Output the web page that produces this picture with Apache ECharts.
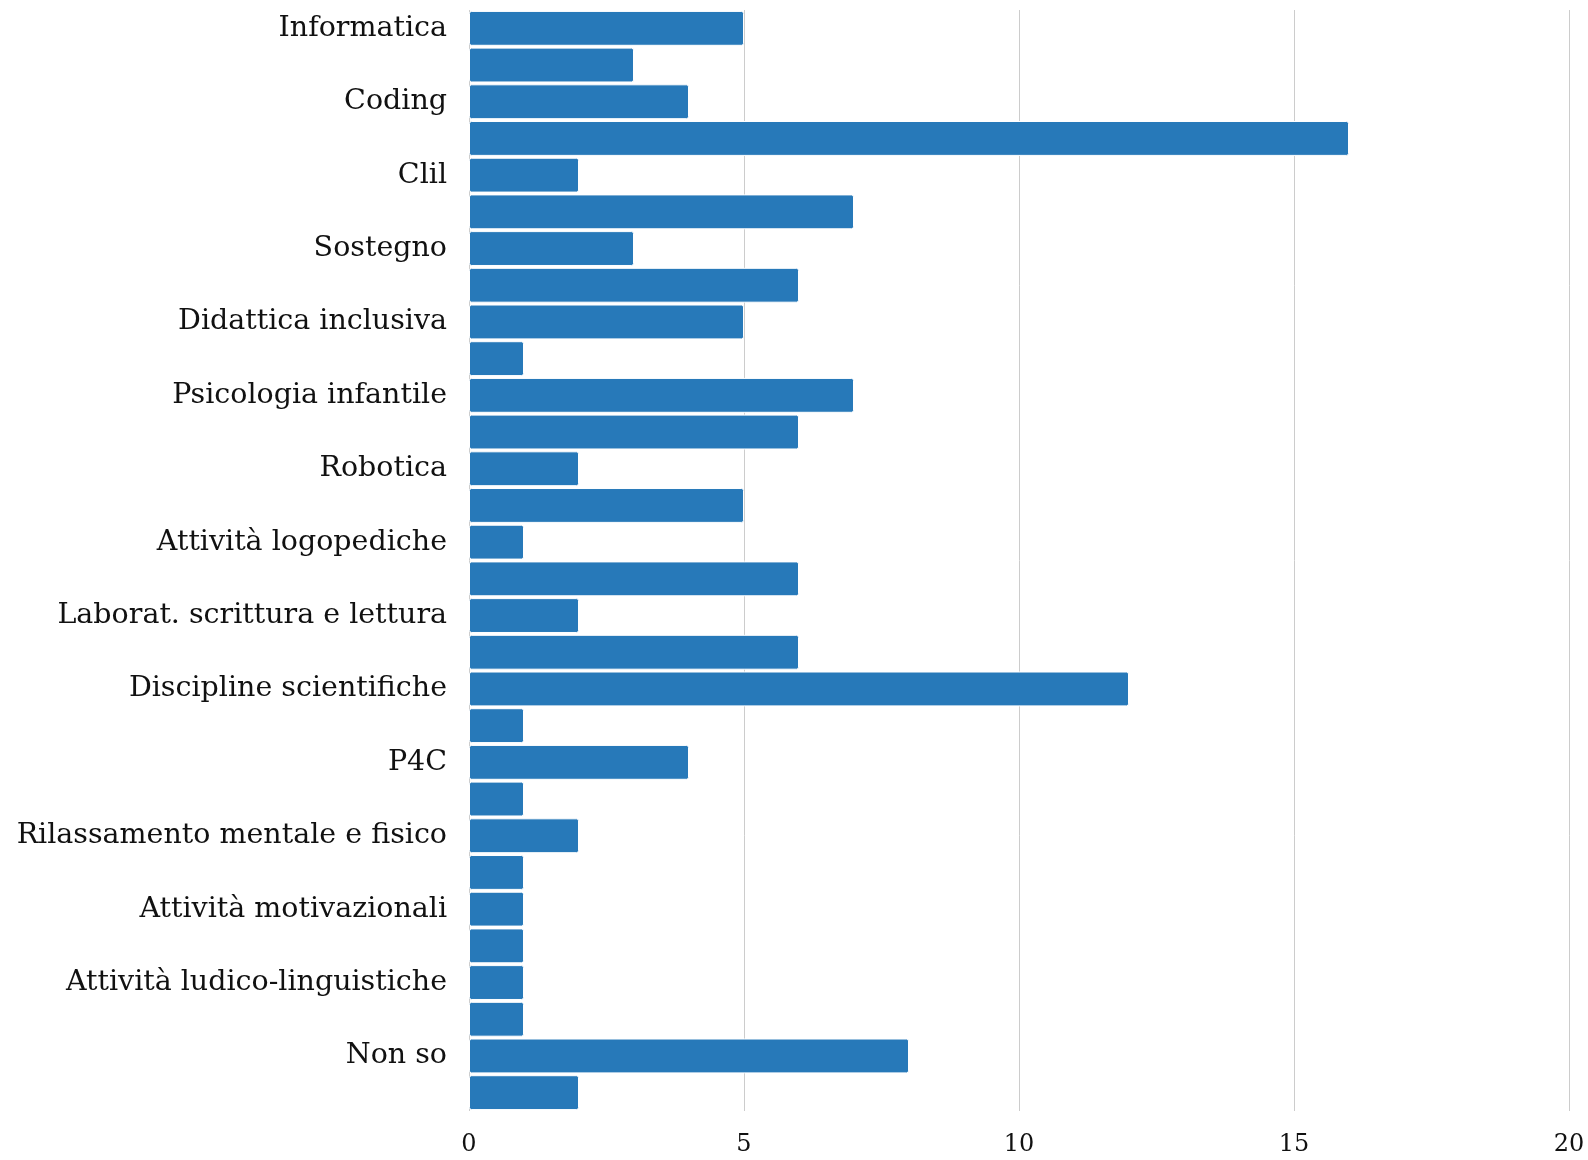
<!DOCTYPE html>
<html>
<head>
<meta charset="utf-8">
<script src="https://cdn.jsdelivr.net/npm/echarts@6/dist/echarts.min.js"></script>
<style>
html,body{margin:0;padding:0;background:#fff;}
#chart{width:1588px;height:1160px;}
</style>
</head>
<body>
<div id="chart"></div>
<script>
// Category labels (only every other row is labelled in the reference)
const categories = [
  "Informatica", "", "Coding", "", "Clil", "", "Sostegno", "",
  "Didattica inclusiva", "", "Psicologia infantile", "", "Robotica", "",
  "Attività logopediche", "", "Laborat. scrittura e lettura", "",
  "Discipline scientifiche", "", "P4C", "", "Rilassamento mentale e fisico", "",
  "Attività motivazionali", "", "Attività ludico-linguistiche", "", "Non so", ""
];
const values = [5, 3, 4, 16, 2, 7, 3, 6, 5, 1, 7, 6, 2, 5, 1, 6, 2, 6, 12, 1, 4, 1, 2, 1, 1, 1, 1, 1, 8, 2];
const xTicks = { min: 0, max: 20, interval: 5 };

const chart = echarts.init(document.getElementById('chart'), null, { renderer: 'canvas' });
chart.setOption({
  animation: false,
  backgroundColor: '#ffffff',
  grid: { left: 469, right: 19, top: 10, bottom: 49, containLabel: false },
  xAxis: {
    type: 'value',
    min: xTicks.min, max: xTicks.max, interval: xTicks.interval,
    axisLine: { show: false },
    axisTick: { show: false },
    splitLine: { show: true, lineStyle: { color: '#cccccc', width: 1 } },
    axisLabel: { color: '#111', fontFamily: 'DejaVu Serif', fontSize: 24, margin: 22 }
  },
  yAxis: {
    type: 'category',
    data: categories,
    inverse: true,
    axisLine: { show: false },
    axisTick: { show: false },
    splitLine: { show: false },
    axisLabel: { interval: 0, color: '#111', fontFamily: 'DejaVu Serif', fontSize: 28.5, margin: 22 }
  },
  series: [{
    type: 'bar',
    data: values,
    barCategoryGap: '5%',
    itemStyle: { color: '#2779b9', borderColor: '#ffffff', borderWidth: 1, borderRadius: 2 }
  }]
});
</script>
</body>
</html>
